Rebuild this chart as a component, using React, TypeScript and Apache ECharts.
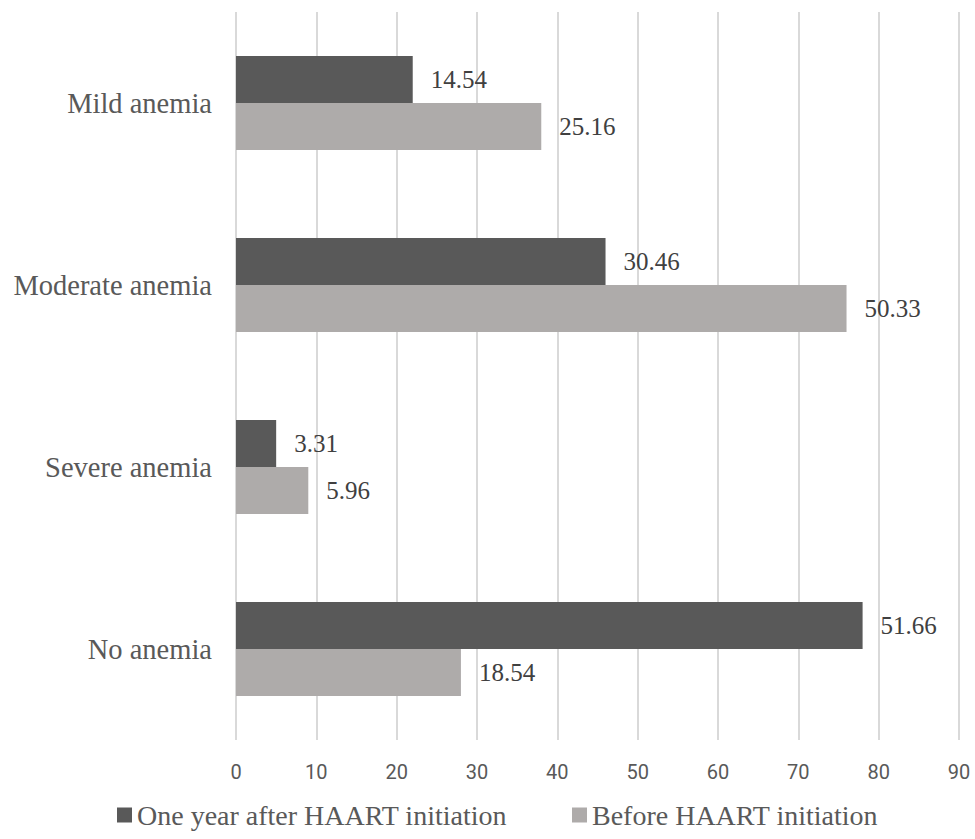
import React, { useEffect, useRef } from "react";
import * as echarts from "echarts";

const categories = ["Mild anemia", "Moderate anemia", "Severe anemia", "No anemia"];
const seriesNames = ["One year after HAART initiation", "Before HAART initiation"];
const afterCounts = [22, 46, 5, 78];
const beforeCounts = [38, 76, 9, 28];
// percentages shown as data labels
const afterPercents = ["14.54", "30.46", "3.31", "51.66"];
const beforePercents = ["25.16", "50.33", "5.96", "18.54"];
const xTicks = { min: 0, max: 90, interval: 10 };

const serif = "'Liberation Serif', 'Times New Roman', serif";

export default function App() {
  const ref = useRef<HTMLDivElement>(null);
  useEffect(() => {
    document.body.style.margin = "0";
    if (!ref.current) return;
    const chart = echarts.init(ref.current, null, { renderer: "svg" });
    const labelCommon = {
      show: true,
      position: "right" as const,
      distance: 18,
      color: "#404040",
      fontFamily: serif,
      fontSize: 25,
    };
    chart.setOption({
      animation: false,
      backgroundColor: "#ffffff",
      grid: { left: 236, right: 16, top: 12, bottom: 99, containLabel: false },
      xAxis: {
        type: "value",
        min: xTicks.min,
        max: xTicks.max,
        interval: xTicks.interval,
        axisLine: { show: false },
        axisTick: { show: false },
        splitLine: { show: true, lineStyle: { color: "#d9d9d9", width: 2 } },
        axisLabel: {
          color: "#595959",
          fontSize: 20,
          fontFamily: "'Liberation Sans Narrow', 'Roboto', sans-serif",
          margin: 22,
        },
      },
      yAxis: {
        type: "category",
        data: categories,
        inverse: true,
        axisLine: { show: false },
        axisTick: { show: false },
        axisLabel: {
          color: "#595959",
          fontSize: 28.5,
          fontFamily: serif,
          margin: 24,
        },
      },
      legend: {
        top: 796,
        left: 112,
        icon: "rect",
        itemWidth: 15,
        itemHeight: 15,
        itemGap: 65,
        textStyle: { color: "#595959", fontSize: 28, fontFamily: serif },
        data: seriesNames,
      },
      series: [
        {
          name: seriesNames[0],
          type: "bar",
          data: afterCounts,
          barWidth: 47,
          barGap: "0%",
          itemStyle: { color: "#595959" },
          label: { ...labelCommon, formatter: (p: any) => afterPercents[p.dataIndex] },
        },
        {
          name: seriesNames[1],
          type: "bar",
          data: beforeCounts,
          barWidth: 47,
          barGap: "0%",
          itemStyle: { color: "#aeabaa" },
          label: { ...labelCommon, formatter: (p: any) => beforePercents[p.dataIndex] },
        },
      ],
    });
    return () => chart.dispose();
  }, []);
  return <div ref={ref} style={{ width: 975, height: 839 }} />;
}
